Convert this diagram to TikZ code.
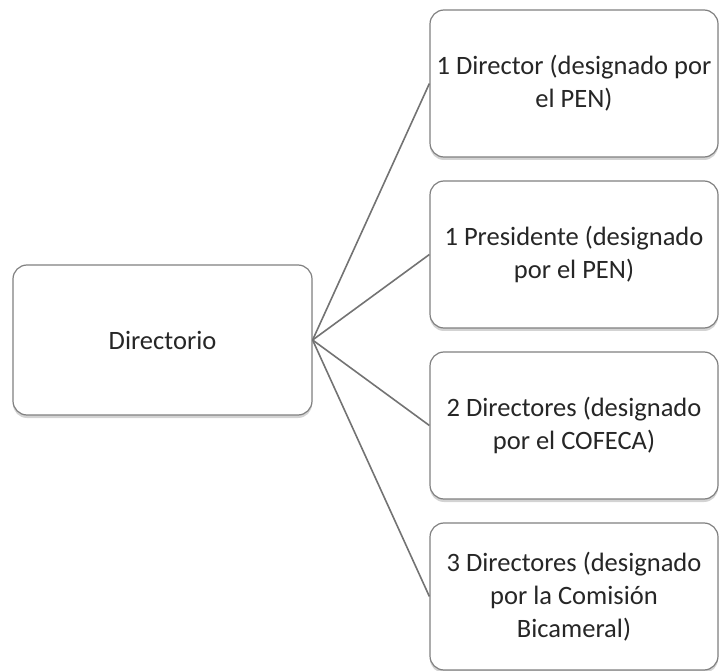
\documentclass[tikz,border=0pt]{standalone}
\usepackage{fontspec}
\setmainfont{Carlito}
\usetikzlibrary{shadows}
\tikzset{
  orgbox/.style={draw=black!50,line width=1.2pt,rounded corners=14pt,fill=white,align=center,
    drop shadow={shadow xshift=0pt,shadow yshift=-3pt,opacity=0.35},
    text=black!85,font=\fontsize{26.5}{33}\selectfont},
  link/.style={draw=black!55,line width=1.6pt}
}
\begin{document}
\begin{tikzpicture}[x=1pt,y=-1pt]
\useasboundingbox (0,0) rectangle (721,671);
\pgfmathsetmacro{\kpitch}{171}
\node[orgbox,minimum width=299pt,minimum height=150pt](dir) at (162.5,340) {Directorio};
\foreach \i/\txt in {0/{1 Director (designado por\\el PEN)},1/{1 Presidente (designado\\por el PEN)},2/{2 Directores (designado\\por el COFECA)},3/{3 Directores (designado\\por la Comisión\\Bicameral)}}{
  \node[orgbox,minimum width=288pt,minimum height=147pt](m\i) at (574,83.5+\i*\kpitch) {\txt};
  \draw[link](dir.east)--(m\i.west);}
\end{tikzpicture}
\end{document}
